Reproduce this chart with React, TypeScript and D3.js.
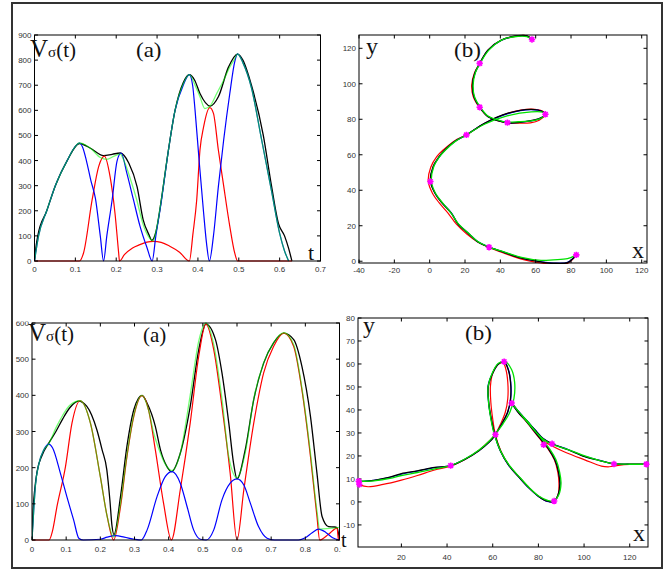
import React from "react";
import * as d3 from "d3";

type Pt = [number, number];

const W = 670;
const H = 571;

// ---------- top-left (a) ----------
const tlXTicks = [0, 0.1, 0.2, 0.3, 0.4, 0.5, 0.6, 0.7];
const tlYTicks = [0, 100, 200, 300, 400, 500, 600, 700, 800, 900];
const tlBlack: Pt[] = [[0,0],[0.004,60],[0.008,100],[0.03,200],[0.051,300],[0.08,400],[0.11,468],[0.137,449],[0.169,420],[0.19,425],[0.21,430],[0.231,389],[0.251,296],[0.266,164],[0.28,105],[0.287,82],[0.297,115],[0.311,250],[0.324,400],[0.344,600],[0.364,710],[0.379,742],[0.392,720],[0.405,667],[0.43,617],[0.45,654],[0.475,773],[0.497,824],[0.51,800],[0.531,700],[0.56,500],[0.58,300],[0.597,150],[0.612,100],[0.622,50],[0.63,0]];
const tlGreen: Pt[] = [[0,0],[0.01,100],[0.03,200],[0.051,300],[0.08,400],[0.095,445],[0.11,470],[0.125,462],[0.14,445],[0.161,412],[0.177,405],[0.195,418],[0.21,426],[0.22,395],[0.235,325],[0.25,245],[0.265,150],[0.28,95],[0.29,80],[0.297,115],[0.311,250],[0.324,400],[0.344,600],[0.364,705],[0.379,742],[0.393,700],[0.405,654],[0.417,607],[0.43,618],[0.446,667],[0.463,720],[0.478,773],[0.49,805],[0.497,825],[0.51,790],[0.531,690],[0.555,490],[0.58,280],[0.6,110],[0.612,40],[0.622,0]];
const tlBlue: Pt[] = [[0,0],[0.01,100],[0.03,200],[0.051,300],[0.08,400],[0.095,445],[0.11,470],[0.118,452],[0.127,400],[0.138,320],[0.149,250],[0.161,100],[0.169,0],[0.177,100],[0.19,243],[0.202,398],[0.212,430],[0.226,350],[0.242,245],[0.258,140],[0.275,55],[0.288,0],[0.297,100],[0.311,243],[0.324,398],[0.344,600],[0.364,700],[0.379,742],[0.387,700],[0.393,600],[0.403,398],[0.414,190],[0.421,71],[0.428,0],[0.438,100],[0.45,296],[0.463,482],[0.478,667],[0.49,793],[0.497,825],[0.51,790],[0.531,690],[0.555,490],[0.58,280],[0.6,110],[0.612,40],[0.622,0]];
const tlRed: Pt[] = [[0,0],[0.11,0],[0.12,32],[0.141,243],[0.157,376],[0.171,418],[0.185,336],[0.197,190],[0.206,32],[0.208,0],[0.22,25],[0.24,52],[0.258,65],[0.275,75],[0.291,78],[0.31,74],[0.33,60],[0.355,35],[0.379,0],[0.388,111],[0.397,243],[0.405,442],[0.414,535],[0.429,611],[0.438,588],[0.45,442],[0.462,310],[0.478,138],[0.49,32],[0.497,0],[0.63,0]];

// ---------- top-right (b) ----------
const trXTicks = [-40, -20, 0, 20, 40, 60, 80, 100, 120];
const trYTicks = [0, 20, 40, 60, 80, 100, 120];
const trBlack: Pt[] = [[83,3.6],[78,-0.8],[70,-1.2],[63,-0.4],[52,1.7],[42,5],[33.6,7.9],[27,11],[21.7,15.8],[16,21],[12.3,27],[6.8,33],[3,38.3],[0.4,44.9],[1.9,53.3],[5,58.5],[8.5,62.7],[14,67.5],[20.8,71.2],[31,77.7],[44.3,83.4],[57.5,85.6],[64,84.3],[65.5,82.8],[63,80.8],[59.4,79.6],[50,78.1],[44,78],[40.6,78.7],[33,81.5],[28.3,86.8],[25,92.8],[24.2,99.3],[25.5,105.9],[28.3,111.5],[33,119],[40.6,124.7],[50,127.1],[55,127],[57.9,125]];
const trRed: Pt[] = [[83,3.4],[78,-1.2],[70,-1.8],[63,-1],[52,1.2],[42,4.6],[33.6,7.8],[27,11],[21,15.3],[15,21],[10.5,27],[5.3,33],[1.5,38.5],[-0.8,45],[0.6,53],[4,59],[8,63],[14,67.8],[20.8,71.2],[31,77.6],[44.3,83.4],[57.5,85.8],[64,84.5],[65.5,82.8],[62,79.5],[57,78],[50,77.8],[44,78],[40,78.8],[33,81.5],[28.3,86.5],[24.6,93],[23.8,99.5],[25.3,106],[28.3,111.5],[33,119],[40.6,124.6],[50,127],[55,127.1],[57.9,125]];
const trGreen: Pt[] = [[83,3.6],[78,1.4],[70,0.8],[63,0.5],[52,2.2],[42,5.3],[33.6,8],[27,11.3],[21.7,16],[16,21.3],[12.3,27],[7.2,33],[3.3,38.3],[1,44.9],[2.2,53],[5.3,58.5],[8.8,62.5],[14.3,67.4],[20.8,71.2],[31,77.2],[44.3,82],[57.5,84.2],[64,84],[65.5,82.8],[63,80.6],[59.4,79.4],[50,78.6],[44,78.4],[40.6,79],[33,81.8],[28.5,87],[25.3,93],[24.6,99.5],[25.8,106],[28.5,111.5],[33.5,119],[41,124.8],[50,126.8],[55,126.6],[57.9,125]];
const trBlue: Pt[] = [[83,3.5],[78,-0.6],[70,-1],[63,-0.3],[52,1.8],[42,5.1],[33.6,8],[27,11.2],[21.7,16],[16,21.2],[12.3,27.2],[7,33],[3.1,38.3],[0.6,44.9],[2.1,53.3],[5.2,58.5],[8.7,62.6],[14.2,67.5],[20.8,71.2],[31,77.6],[44.3,83.2],[57.5,85.4],[64,84.2],[65.5,82.8],[63,80.8],[59.4,79.5],[50,78.2],[44,78.1],[40.6,78.8],[33,81.6],[28.4,86.8],[25.1,92.8],[24.3,99.3],[25.6,105.9],[28.4,111.5],[33.1,119],[40.7,124.6],[50,127],[55,126.9],[57.9,125]];
const trMarks: Pt[] = [[83,3.6],[33.6,7.9],[0.4,44.9],[20.8,71.2],[65.5,82.8],[44,78.1],[28.3,86.8],[28.3,111.5],[57.9,125]];

// ---------- bottom-left (a) ----------
const blXTicks = [0, 0.1, 0.2, 0.3, 0.4, 0.5, 0.6, 0.7, 0.8, 0.9];
const blYTicks = [0, 100, 200, 300, 400, 500, 600];
const blBlack: Pt[] = [[0,0],[0.003,80],[0.008,140],[0.015,190],[0.03,235],[0.049,268],[0.07,300],[0.09,335],[0.11,365],[0.136,384],[0.16,370],[0.19,304],[0.205,250],[0.219,194],[0.228,110],[0.234,40],[0.24,15],[0.259,120],[0.278,260],[0.298,360],[0.322,400],[0.337,378],[0.361,314],[0.376,249],[0.395,203],[0.408,189],[0.434,240],[0.463,369],[0.488,526],[0.509,597],[0.537,554],[0.556,462],[0.576,323],[0.59,212],[0.6,169],[0.624,249],[0.649,388],[0.678,489],[0.707,545],[0.737,572],[0.766,554],[0.79,480],[0.815,342],[0.834,185],[0.849,65],[0.868,37],[0.885,36],[0.893,34],[0.9,0]];
const blGreen: Pt[] = [[0,0],[0.005,80],[0.01,150],[0.02,210],[0.035,250],[0.049,266],[0.07,310],[0.09,345],[0.11,372],[0.141,385],[0.171,323],[0.2,175],[0.22,65],[0.239,8],[0.259,100],[0.278,235],[0.298,345],[0.322,400],[0.341,360],[0.355,300],[0.37,255],[0.39,210],[0.41,192],[0.434,240],[0.463,400],[0.488,550],[0.509,600],[0.532,540],[0.556,390],[0.576,230],[0.6,172],[0.624,240],[0.649,390],[0.678,490],[0.707,545],[0.737,573],[0.766,540],[0.79,420],[0.815,240],[0.834,80],[0.842,30],[0.87,32],[0.9,35]];
const blBlue: Pt[] = [[0,0],[0.005,80],[0.01,150],[0.02,210],[0.035,250],[0.049,265],[0.06,255],[0.083,185],[0.102,120],[0.122,55],[0.137,5],[0.15,0],[0.2,2],[0.22,8],[0.245,12],[0.27,8],[0.3,2],[0.32,0],[0.337,28],[0.366,120],[0.39,175],[0.41,189],[0.434,157],[0.454,92],[0.473,28],[0.493,2],[0.51,0],[0.532,28],[0.556,111],[0.58,157],[0.6,169],[0.62,152],[0.639,102],[0.663,37],[0.688,5],[0.71,0],[0.78,0],[0.8,6],[0.82,20],[0.839,30],[0.86,21],[0.88,6],[0.9,0]];
const blRed: Pt[] = [[0,0],[0.05,0],[0.06,25],[0.073,92],[0.098,203],[0.117,323],[0.141,385],[0.171,323],[0.2,175],[0.22,65],[0.239,0],[0.259,92],[0.278,231],[0.298,342],[0.322,399],[0.341,360],[0.361,249],[0.385,102],[0.408,0],[0.434,139],[0.463,323],[0.488,508],[0.509,597],[0.532,526],[0.556,369],[0.58,185],[0.6,0],[0.62,139],[0.649,323],[0.678,462],[0.707,535],[0.737,572],[0.766,535],[0.79,415],[0.815,231],[0.834,65],[0.842,0],[0.868,16],[0.893,33],[0.897,0],[0.9,0]];

// ---------- bottom-right (b) ----------
const brXTicks = [20, 40, 60, 80, 100, 120];
const brYTicks = [-10, 0, 10, 20, 30, 40, 50, 60, 70, 80];
const brBlack: Pt[] = [[1.3,8.8],[8,9.4],[15,10.8],[20,12.3],[27,13.5],[34.6,15],[41.6,15.8],[48,18.6],[54,22.3],[58.5,26],[61,29],[64,34],[66.5,39],[67.8,45],[67.8,52],[66.8,57.5],[65,61],[62.5,60],[60,56],[58.1,50.4],[58.3,43],[59.4,36],[61,29],[63.5,22],[67,16],[71.8,10.5],[76,6],[80,2.5],[84,0.3],[86.7,0.2],[88.6,3],[89.4,8],[88.8,13],[87.2,18.3],[84.5,23],[81.3,27],[78,31],[74.8,35],[71.5,38.5],[68.3,43],[71.5,39],[75,35.2],[78.4,31.4],[82,27.6],[86,25.3],[93,22.7],[100.3,19.7],[106.9,18],[113,16.6],[120,16.4],[127.3,16.4]];
const brRed: Pt[] = [[1.3,7.5],[5.4,6.6],[12,7.6],[20,9.5],[27,11.5],[34.6,13.9],[41.6,15.6],[48,18.6],[54,22.5],[58.5,26.5],[61,29.2],[63.5,34],[65.5,39],[66.6,45],[66.6,52],[65.8,57.5],[64.5,60.6],[62,59.5],[60,56],[59,50.4],[59.2,43],[60,36],[61.2,29],[63.6,22],[67,16],[71.8,10.5],[76,6],[80,2.5],[84,0.3],[86.7,0.2],[88.6,3],[89,8],[88.5,13],[87,18.3],[84.3,23],[81,27],[77.8,31],[74.8,35],[71.5,38.5],[68.8,42.5],[71.8,38.5],[75.5,34],[79,30],[82.3,26.5],[86,24.3],[92,21.5],[100.3,18.3],[107.6,15.6],[111,15.3],[115,15.9],[120,16.3],[127.3,16.4]];
const brGreen: Pt[] = [[1.3,9],[8,9.2],[15,10.2],[20,11.5],[27,12.8],[34.6,14.4],[41.6,15.8],[48,18.8],[54,22.6],[58.5,26.5],[61,29.4],[64.5,34],[67.5,39],[69.3,45],[69.6,52],[68.3,57.5],[65.5,61],[62.5,60.3],[60,56.5],[58,50.4],[58.2,43],[59.2,36],[60.8,29],[63.5,22],[67.2,16],[72,10.5],[76.2,6],[80.3,2.5],[84.3,0.6],[86.7,0.4],[88.9,3],[89.9,8],[89.3,13],[87.7,18.3],[85,23],[81.8,27],[78.5,31],[75.3,35],[72,38.5],[68.8,42.3],[72,38.5],[75.8,34],[79.3,30],[82.5,27],[86,25],[93,22.8],[100.3,20],[106.9,18],[113,16.6],[120,16.4],[127.3,16.4]];
const brBlue: Pt[] = [[1.3,8.9],[8,9.4],[15,10.7],[20,12.1],[27,13.4],[34.6,14.9],[41.6,15.8],[48,18.7],[54,22.4],[58.5,26.1],[61,29.1],[64,34],[66.6,39],[67.9,45],[67.9,52],[66.9,57.5],[65,61],[62.4,60],[59.9,56],[57.9,50.4],[58.2,43],[59.3,36],[60.9,29],[63.4,22],[66.9,16],[71.7,10.5],[75.9,6],[79.9,2.5],[83.9,0.2],[86.7,0.1],[88.7,3],[89.5,8],[88.9,13],[87.3,18.3],[84.6,23],[81.4,27],[78.1,31],[74.9,35],[71.6,38.5],[68.4,42.8],[71.6,39],[75.1,35.2],[78.5,31.4],[82.1,27.6],[86,25.3],[93,22.8],[100.3,19.8],[106.9,18.1],[113,16.6],[120,16.4],[127.3,16.4]];
const brMarks: Pt[] = [[1.3,9],[1.6,7.6],[41.6,15.8],[61.2,29.3],[65,61],[68.3,43],[82.3,24.9],[86,25.3],[86.9,0.4],[113.1,16.5],[127.3,16.4]];

const fmt = (v: number) => String(v);

type Series = { pts: Pt[]; color: string; width: number; opacity?: number };

function Panel(props: {
  id: string;
  xs: d3.ScaleLinear<number, number>;
  ys: d3.ScaleLinear<number, number>;
  xTicks: number[];
  yTicks: number[];
  series: Series[];
  curve: d3.CurveFactory;
  marks?: Pt[];
  xLabelDy: number;
}) {
  const { id, xs, ys, xTicks, yTicks, series, curve, marks, xLabelDy } = props;
  const [x0, x1] = xs.range();
  const [y0, y1] = ys.range(); // y0 bottom, y1 top
  const line = d3
    .line<Pt>()
    .x((d) => xs(d[0]))
    .y((d) => ys(d[1]))
    .curve(curve);
  const tk = 3.5;
  return (
    <g>
      <defs>
        <clipPath id={id}>
          <rect x={x0} y={y1 - 1} width={x1 - x0} height={y0 - y1 + 2} />
        </clipPath>
      </defs>
      <g clipPath={`url(#${id})`}>
        {series.map((s, i) => (
          <path
            key={i}
            d={line(s.pts) || ""}
            fill="none"
            stroke={s.color}
            strokeWidth={s.width}
            strokeOpacity={s.opacity ?? 1}
            strokeLinejoin="round"
          />
        ))}
      </g>
      <rect x={x0} y={y1} width={x1 - x0} height={y0 - y1} fill="none" stroke="#000" strokeWidth={1} />
      {xTicks.map((v) => (
        <g key={"x" + v}>
          <line x1={xs(v)} x2={xs(v)} y1={y0} y2={y0 - tk} stroke="#000" />
          <line x1={xs(v)} x2={xs(v)} y1={y1} y2={y1 + tk} stroke="#000" />
          <text x={xs(v)} y={y0 + xLabelDy} textAnchor="middle" fontSize={8} fill="#333" fontFamily="Liberation Sans, Arial, sans-serif">
            {fmt(v)}
          </text>
        </g>
      ))}
      {yTicks.map((v) => (
        <g key={"y" + v}>
          <line x1={x0} x2={x0 + tk} y1={ys(v)} y2={ys(v)} stroke="#000" />
          <line x1={x1} x2={x1 - tk} y1={ys(v)} y2={ys(v)} stroke="#000" />
          <text x={x0 - 3} y={ys(v) + 3} textAnchor="end" fontSize={8} fill="#333" fontFamily="Liberation Sans, Arial, sans-serif">
            {fmt(v)}
          </text>
        </g>
      ))}
      {marks &&
        marks.map((m, i) => {
          const cx = xs(m[0]);
          const cy = ys(m[1]);
          const r = 3.2;
          const q = r * 0.72;
          return (
            <path
              key={"m" + i}
              d={`M${cx - r},${cy}L${cx + r},${cy}M${cx},${cy - r}L${cx},${cy + r}M${cx - q},${cy - q}L${cx + q},${cy + q}M${cx - q},${cy + q}L${cx + q},${cy - q}`}
              stroke="#ff00ff"
              strokeWidth={1.6}
            />
          );
        })}
    </g>
  );
}

const serif = "Liberation Serif, Times New Roman, serif";

function Label(props: { x: number; y: number; size: number; sx?: number; children: React.ReactNode }) {
  const { x, y, size, sx = 1, children } = props;
  return (
    <text transform={`translate(${x},${y}) scale(${sx},1)`} fontSize={size} fontFamily={serif} fill="#111">
      {children}
    </text>
  );
}

function VLabel(props: { x: number; y: number }) {
  return (
    <text transform={`translate(${props.x},${props.y})`} fontFamily={serif} fill="#111">
      <tspan fontSize={25}>V</tspan>
      <tspan fontSize={15}>σ</tspan>
      <tspan fontSize={21}>(t)</tspan>
    </text>
  );
}

export default function App() {
  const tlX = d3.scaleLinear().domain([0, 0.7]).range([34.5, 320.5]);
  const tlY = d3.scaleLinear().domain([0, 900]).range([261, 35]);
  const trX = d3.scaleLinear().domain([-40, 123]).range([359, 647]);
  const trY = d3.scaleLinear().domain([-1, 127.5]).range([263, 35]);
  const blX = d3.scaleLinear().domain([0, 0.9]).range([32, 339.5]);
  const blY = d3.scaleLinear().domain([0, 600]).range([540, 323]);
  const brX = d3.scaleLinear().domain([1, 128]).range([358, 648]);
  const brY = d3.scaleLinear().domain([-19.6, 80]).range([547, 318]);

  const mono = d3.curveMonotoneX;
  const cat = d3.curveCatmullRom.alpha(0.5);

  return (
    <svg width={W} height={H} style={{ position: "absolute", left: 0, top: 0, background: "#fff" }}>
      <rect x={0} y={0} width={W} height={H} fill="#fff" />

      <Panel
        id="tl"
        xs={tlX}
        ys={tlY}
        xTicks={tlXTicks}
        yTicks={tlYTicks}
        curve={mono}
        xLabelDy={11}
        series={[
          { pts: tlBlack, color: "#000", width: 1.3 },
          { pts: tlRed, color: "#ff0000", width: 1.2 },
          { pts: tlBlue, color: "#0000ff", width: 1.2 },
          { pts: tlGreen, color: "#00ff00", width: 1.3, opacity: 0.55 },
        ]}
      />
      <VLabel x={30} y={57} />
      <Label x={136} y={57} size={20} sx={1.15}>(a)</Label>
      <Label x={308} y={260} size={22}>t</Label>

      <Panel
        id="tr"
        xs={trX}
        ys={trY}
        xTicks={trXTicks}
        yTicks={trYTicks}
        curve={cat}
        marks={trMarks}
        xLabelDy={10}
        series={[
          { pts: trRed, color: "#ff0000", width: 1.2 },
          { pts: trBlue, color: "#0000ff", width: 1.2 },
          { pts: trBlack, color: "#000", width: 1.3 },
          { pts: trGreen, color: "#00e000", width: 1.3 },
        ]}
      />
      <Label x={366} y={54} size={24}>y</Label>
      <Label x={454} y={57} size={21} sx={1.1}>(b)</Label>
      <Label x={632} y={258} size={24}>x</Label>

      <g clipPath="url(#blclip)">
        <defs>
          <clipPath id="blclip">
            <rect x={0} y={321.5} width={341} height={H - 321.5} />
          </clipPath>
        </defs>
        <Panel
          id="bl"
          xs={blX}
          ys={blY}
          xTicks={blXTicks}
          yTicks={blYTicks}
          curve={mono}
          xLabelDy={12}
          series={[
            { pts: blBlack, color: "#000", width: 1.3 },
            { pts: blRed, color: "#ff0000", width: 1.2 },
            { pts: blBlue, color: "#0000ff", width: 1.2 },
            { pts: blGreen, color: "#00ff00", width: 1.3, opacity: 0.55 },
          ]}
        />
      </g>
      <VLabel x={28} y={341} />
      <Label x={143} y={342} size={21}>(a)</Label>
      <Label x={341} y={547} size={20}>t</Label>

      <Panel
        id="br"
        xs={brX}
        ys={brY}
        xTicks={brXTicks}
        yTicks={brYTicks}
        curve={cat}
        marks={brMarks}
        xLabelDy={13}
        series={[
          { pts: brRed, color: "#ff0000", width: 1.2 },
          { pts: brBlue, color: "#0000ff", width: 1.2 },
          { pts: brBlack, color: "#000", width: 1.3 },
          { pts: brGreen, color: "#00e000", width: 1.3 },
        ]}
      />
      <Label x={363} y={333} size={24}>y</Label>
      <Label x={465} y={340} size={20} sx={1.15}>(b)</Label>
      <Label x={633} y={541} size={24}>x</Label>

      <rect x={12} y={3} width={650} height={565} fill="none" stroke="#333" strokeWidth={2} />
    </svg>
  );
}
